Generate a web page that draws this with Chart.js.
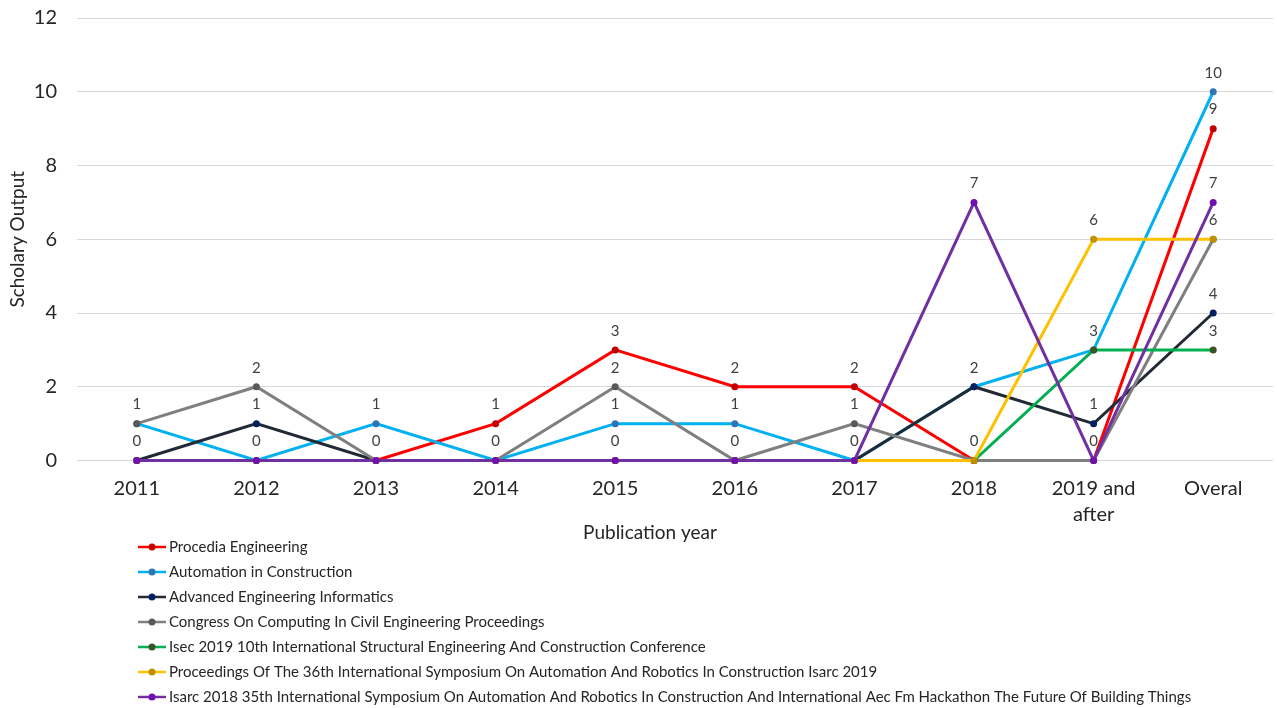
<!DOCTYPE html>
<html>
<head>
<meta charset="utf-8">
<script src="https://cdn.jsdelivr.net/npm/chart.js@4.4.0/dist/chart.umd.min.js"></script>
<style>
  html, body { margin: 0; padding: 0; background: #ffffff; }
  #wrap { width: 1277px; height: 708px; }
</style>
</head>
<body>
<div id="wrap"><canvas id="outputChart" width="1277" height="708"></canvas></div>
<script>
const years = ["2011", "2012", "2013", "2014", "2015", "2016", "2017", "2018", ["2019 and", "after"], "Overal"];

const seriesNames = [
  "Procedia Engineering",
  "Automation in Construction",
  "Advanced Engineering Informatics",
  "Congress On Computing In Civil Engineering Proceedings",
  "Isec 2019 10th International Structural Engineering And Construction Conference",
  "Proceedings Of The 36th International Symposium On Automation And Robotics In Construction Isarc 2019",
  "Isarc 2018 35th International Symposium On Automation And Robotics In Construction And International Aec Fm Hackathon The Future Of Building Things",
];

const procedia = [0, 0, 0, 1, 3, 2, 2, 0, 0, 9];
const automation = [1, 0, 1, 0, 1, 1, 0, 2, 3, 10];
const advanced = [0, 1, 0, 0, 0, 0, 0, 2, 1, 4];
const congress = [1, 2, 0, 0, 2, 0, 1, 0, 0, 6];
const isec2019 = [0, 0, 0, 0, 0, 0, 0, 0, 3, 3];
const isarc2019 = [0, 0, 0, 0, 0, 0, 0, 0, 6, 6];
const isarc2018 = [0, 0, 0, 0, 0, 0, 0, 7, 0, 7];

const seriesValues = [procedia, automation, advanced, congress, isec2019, isarc2019, isarc2018];

const lineColors = ["#ff0000", "#00b0f0", "#222a35", "#7f7f7f", "#00b050", "#ffc000", "#7030a0"];
const markerColors = ["#c00000", "#2e75b6", "#002060", "#595959", "#375623", "#bf9000", "#7010b0"];

const FONT = "Lato, 'Open Sans', sans-serif";
const TEXT_DARK = "#262626";

// excel-style labels above every point (identical ones drawn once)
const pointLabels = {
  id: "pointLabels",
  afterDatasetsDraw(chart) {
    const ctx = chart.ctx;
    const seen = new Set();
    ctx.save();
    ctx.font = "15px " + FONT;
    ctx.fillStyle = "#404040";
    ctx.textAlign = "center";
    ctx.textBaseline = "middle";
    chart.data.datasets.forEach((ds, i) => {
      const meta = chart.getDatasetMeta(i);
      meta.data.forEach((pt, j) => {
        const key = j + ":" + ds.data[j];
        if (seen.has(key)) return;
        seen.add(key);
        ctx.fillText(String(ds.data[j]), pt.x, pt.y - 19);
      });
    });
    ctx.restore();
  },
};

// axis title + vertical legend under the plot
const stackedLegend = {
  id: "stackedLegend",
  afterDraw(chart) {
    const ctx = chart.ctx;
    ctx.save();
    ctx.textBaseline = "middle";
    ctx.textAlign = "center";
    ctx.fillStyle = TEXT_DARK;
    ctx.font = "19px " + FONT;
    ctx.fillText("Publication year", 650, 533);

    ctx.font = "15px " + FONT;
    ctx.textAlign = "left";
    chart.data.datasets.forEach((ds, i) => {
      const y = 547 + i * 25;
      ctx.strokeStyle = ds.borderColor;
      ctx.lineWidth = 2.5;
      ctx.beginPath();
      ctx.moveTo(138, y);
      ctx.lineTo(166, y);
      ctx.stroke();
      ctx.fillStyle = ds.pointBackgroundColor;
      ctx.beginPath();
      ctx.arc(152, y, 3.5, 0, Math.PI * 2);
      ctx.fill();
      ctx.fillStyle = TEXT_DARK;
      ctx.fillText(ds.label, 169, y);
    });
    ctx.restore();
  },
};

const datasets = seriesNames.map((name, i) => ({
  label: name,
  data: seriesValues[i],
  borderColor: lineColors[i],
  backgroundColor: lineColors[i],
  pointBackgroundColor: markerColors[i],
  pointBorderWidth: 0,
  pointRadius: 3.5,
  borderWidth: 3,
  tension: 0,
  fill: false,
  clip: 4,
  order: seriesNames.length - i, // later series on top, like excel
}));

new Chart(document.getElementById("outputChart"), {
  type: "line",
  data: { labels: years, datasets: datasets },
  options: {
    responsive: false,
    animation: false,
    layout: { padding: { top: 0, right: 0, bottom: 160, left: 0 } },
    plugins: {
      legend: { display: false },
      tooltip: { enabled: false },
    },
    scales: {
      x: {
        offset: true,
        grid: { display: false, drawTicks: false },
        border: { display: false },
        ticks: {
          color: TEXT_DARK,
          font: { family: FONT, size: 20, lineHeight: 1.3 },
          padding: 15,
          maxRotation: 0,
          autoSkip: false,
        },
        afterFit: (scale) => {
          // half-pixel baseline keeps the zero lines crisp
          scale.height = 87.5;
        },
      },
      y: {
        min: 0,
        max: 12,
        grid: { color: "#d9d9d9", lineWidth: 1, drawTicks: false },
        border: { display: false },
        ticks: {
          stepSize: 2,
          color: TEXT_DARK,
          font: { family: FONT, size: 20 },
          padding: 20,
        },
        title: {
          display: true,
          text: "Scholary Output",
          color: TEXT_DARK,
          font: { family: FONT, size: 19 },
          padding: { top: 6, bottom: 0 },
        },
        afterFit: (scale) => {
          scale.width = 77;
          scale.paddingTop = 18;
        },
      },
    },
  },
  plugins: [pointLabels, stackedLegend],
});
</script>
</body>
</html>
